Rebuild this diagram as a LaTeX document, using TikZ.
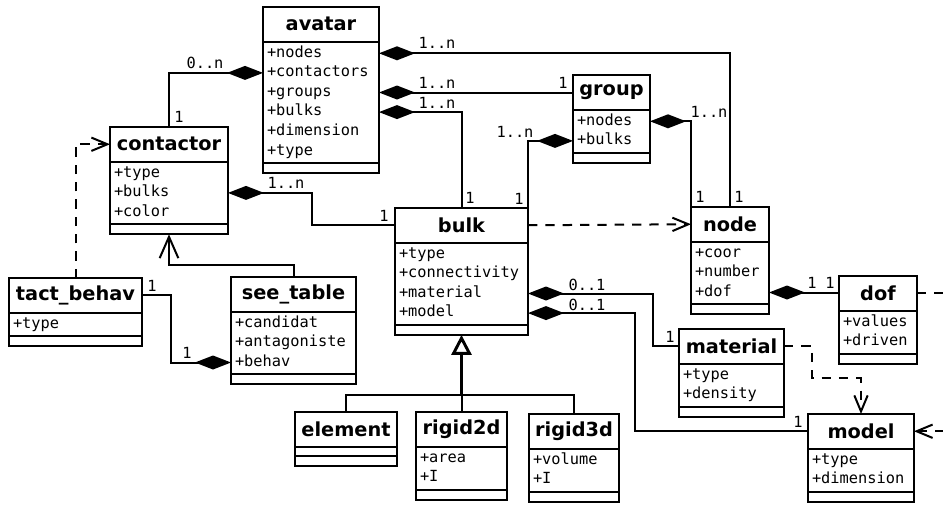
\documentclass[tikz,border=0pt]{standalone}
\usepackage{fontspec}
\setsansfont{DejaVu Sans}
\setmonofont{DejaVu Sans Mono}
\usetikzlibrary{arrows.meta, calc}

% one pixel of the drawing
\def\px{0.75pt}

% class box: name, top left corner, width, title, number of attributes, attributes
\newcommand{\umlclass}[6]{%
  \pgfmathsetlengthmacro\clsw{#3*\px}%
  \pgfmathsetlengthmacro\clstw{(#3-8)*\px}%
  \pgfmathsetlengthmacro\clsh{max(#5*19.6+4,9)*\px}%
  \node[classhead, minimum width=\clsw, anchor=north west] (#1) at (#2) {#4};
  \node[classpart, minimum width=\clsw, minimum height=\clsh, anchor=north] (#1-attr) at (#1.south) {};
  \node[classpart, minimum width=\clsw, minimum height=10*\px, anchor=north] (#1-ops) at (#1-attr.south) {};
  \ifnum#5>0
    \foreach \a [count=\i] in {#6}
      \node[attrrow, text width=\clstw, anchor=west] (#1-\a) at ($(#1-attr.north west)+(0,{2+(\i-0.5)*19.6})$) {+\a};
  \fi
}

\begin{document}
\begin{tikzpicture}[
    x=0.75pt, y=-0.75pt,
    classhead/.style={
        draw,
        line width=1.5pt,
        minimum height=34.5*\px,
        inner sep=0pt,
        outer sep=0pt,
        font=\sffamily\bfseries\fontsize{14.5}{17}\selectfont
    },
    classpart/.style={draw, line width=1.5pt, inner sep=0pt, outer sep=0pt},
    attrrow/.style={
        inner xsep=4*\px,
        inner ysep=0pt,
        outer sep=0pt,
        text height=8.4pt,
        text depth=2.7pt,
        align=left,
        font=\ttfamily\fontsize{11.5}{13}\selectfont
    },
    mult/.style={inner sep=0pt, font=\ttfamily\fontsize{11.5}{13}\selectfont},
    link/.style={line width=1.5pt},
    comp/.style={link, {Diamond[length=27pt, width=10.5pt]}-},
    depend/.style={link, dash pattern=on 7pt off 6pt, -{Straight Barb[length=12pt, width=10pt]}},
    navig/.style={link, -{Straight Barb[length=16pt, width=14pt]}},
    gen/.style={line width=2.2pt, -{Triangle[open, length=15pt, width=15pt, fill=white]}},
    genline/.style={line width=1.5pt}
]

    \clip (0,0) rectangle (943,504);

    % Classes
    \umlclass{avatar}{263,7}{116}{avatar}{6}{nodes,contactors,groups,bulks,dimension,type}
    \umlclass{contactor}{110,127}{118}{contactor}{3}{type,bulks,color}
    \umlclass{group}{573,75}{77}{group}{2}{nodes,bulks}
    \umlclass{bulk}{395,208}{133}{bulk}{4}{type,connectivity,material,model}
    \umlclass{node}{691,207}{78}{node}{3}{coor,number,dof}
    \umlclass{dof}{839,276}{78}{dof}{2}{values,driven}
    \umlclass{material}{679,329}{105}{material}{2}{type,density}
    \umlclass{model}{808,414}{106}{model}{2}{type,dimension}
    \umlclass{element}{295,412}{102}{element}{0}{}
    \umlclass{rigid2d}{416,412}{91}{rigid2d}{2}{area,I}
    \umlclass{rigid3d}{529,414}{90}{rigid3d}{2}{volume,I}
    \umlclass{tactbehav}{9,278}{133}{tact\_behav}{1}{type}
    \umlclass{seetable}{231,277}{125}{see\_table}{3}{candidat,antagoniste,behav}

    % Compositions
    \draw[comp] (avatar-contactors.west) -| (contactor.north);
    \draw[comp] (avatar-nodes.east) -| (node.north);
    \draw[comp] (avatar-groups.east) -- (avatar-groups.east -| group.west);
    \draw[comp] (avatar-bulks.east) -| (bulk.north);
    \draw[comp] (contactor-bulks.east) -- ++(84,0) |- (bulk.west);
    \draw[comp] (group-bulks.west) -| (bulk.north east);
    \draw[comp] (group-nodes.east) -| (node.north west);
    \draw[comp] (seetable-behav.west) -- ++(-60,0) |- (tactbehav.east);
    \draw[comp] (bulk-material.east) -- ++(125,0) |- (material.west);
    \draw[comp] (bulk-model.east) -- ++(107,0) |- (model.west);
    \draw[comp] (node-dof.east) -- (node-dof.east -| dof.west);

    % Dependencies
    \draw[depend] (bulk.east) -- (node.west);
    \draw[depend] (tactbehav.north) |- (contactor.west);
    \draw[depend] (material.east) -- ++(28,0) |- ($(model.north)+(0,-36)$) -- (model.north);
    \draw[depend] (dof.east) -- ++(40,0) |- (model.east);
    \draw[navig] (seetable.north) -- ++(0,-12) -| (contactor-ops.south);

    % Inheritance
    \coordinate (genjoin) at ($(bulk-ops.south)+(0,60)$);
    \draw[gen] (genjoin) -- (bulk-ops.south);
    \draw[genline] (element.north) |- (genjoin) -| (rigid3d.north);
    \draw[genline] (rigid2d.north) -- (genjoin);

    % Multiplicities
    \node[mult] (m-av-co) at (205,63) {0..n};
    \node[mult] (m-co-av) at (179,117) {1};
    \node[mult] (m-av-no) at (437,43) {1..n};
    \node[mult] (m-no-av) at (739,197) {1};
    \node[mult] (m-av-gr) at (437,83) {1..n};
    \node[mult] (m-gr-av) at (563,83) {1};
    \node[mult] (m-av-bu) at (437,103) {1..n};
    \node[mult] (m-bu-av) at (470,198) {1};
    \node[mult] (m-co-bu) at (286,183) {1..n};
    \node[mult] (m-bu-co) at (384,216) {1};
    \node[mult] (m-gr-bu) at (515,132) {1..n};
    \node[mult] (m-bu-gr) at (519,199) {1};
    \node[mult] (m-gr-no) at (709,112) {1..n};
    \node[mult] (m-no-gr) at (700,197) {1};
    \node[mult] (m-tb-st) at (152,286) {1};
    \node[mult] (m-st-tb) at (187,353) {1};
    \node[mult] (m-bu-ma) at (587,285) {0..1};
    \node[mult] (m-bu-mo) at (587,305) {0..1};
    \node[mult] (m-ma-bu) at (670,337) {1};
    \node[mult] (m-mo-bu) at (798,422) {1};
    \node[mult] (m-no-do) at (812,283) {1};
    \node[mult] (m-do-no) at (830,283) {1};

\end{tikzpicture}
\end{document}
